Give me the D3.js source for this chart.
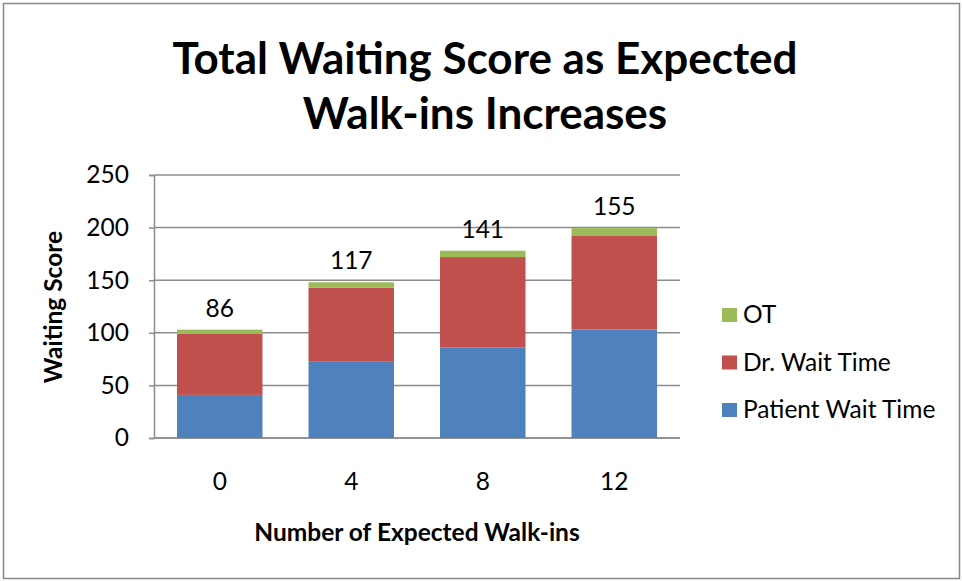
<!DOCTYPE html>
<html lang="en">
<head>
    <meta charset="UTF-8">
    <title>Total Waiting Score as Expected Walk-ins Increases</title>
    <script src="https://d3js.org/d3.v7.min.js"></script>
    <style>
        body {
            margin: 0;
            background: #fff;
            font-family: Lato, "Open Sans", sans-serif;
        }
        svg text {
            fill: #000;
        }
    </style>
</head>
<body>
    <div id="chart"></div>

    <script>
        const width = 962;
        const height = 581;

        // data
        const categories = ["0", "4", "8", "12"];
        const patientWait = [41, 73, 86, 103];
        const drWait = [58, 70, 86, 89];
        const overtime = [4, 5, 6, 7.5];
        const totalLabels = [86, 117, 141, 155];
        const yTicks = [0, 50, 100, 150, 200, 250];

        const seriesNames = ["Patient Wait Time", "Dr. Wait Time", "OT"];
        const colors = ["#4f81bd", "#c0504d", "#9bbb59"];

        const rows = categories.map((c, i) => ({
            cat: c,
            "Patient Wait Time": patientWait[i],
            "Dr. Wait Time": drWait[i],
            "OT": overtime[i]
        }));

        const fs = 24.5;

        const svg = d3.select("#chart")
            .append("svg")
            .attr("width", width)
            .attr("height", height);

        // outer chart border
        svg.append("rect")
            .attr("x", 3.5).attr("y", 3.5)
            .attr("width", 956).attr("height", 575)
            .attr("fill", "none")
            .attr("stroke", "#898989")
            .attr("stroke-width", 1.5);

        const plot = { left: 154, right: 680, top: 175, bottom: 438 };

        const x = d3.scaleBand()
            .domain(categories)
            .range([plot.left, plot.right])
            .paddingInner(0.35)
            .paddingOuter(0.175);

        const y = d3.scaleLinear()
            .domain([0, 250])
            .range([plot.bottom, plot.top]);

        // gridlines
        svg.append("g")
            .selectAll("line")
            .data(yTicks)
            .join("line")
            .attr("x1", plot.left).attr("x2", plot.right)
            .attr("y1", d => y(d)).attr("y2", d => y(d))
            .attr("stroke", "#8c8c8c")
            .attr("stroke-width", 1.5);

        // y axis
        const yAxis = svg.append("g")
            .attr("transform", `translate(${plot.left},0)`)
            .call(d3.axisLeft(y).tickValues(yTicks).tickSize(5).tickPadding(20));
        yAxis.select(".domain").attr("stroke", "#8c8c8c").attr("stroke-width", 1.5);
        yAxis.selectAll(".tick line").attr("stroke", "#8c8c8c").attr("stroke-width", 1.5);
        yAxis.selectAll(".tick text")
            .attr("font-size", fs)
            .attr("font-family", "Lato, sans-serif")
            .attr("fill", "#000");

        // x axis line
        svg.append("line")
            .attr("x1", plot.left).attr("x2", plot.right)
            .attr("y1", plot.bottom).attr("y2", plot.bottom)
            .attr("stroke", "#8c8c8c")
            .attr("stroke-width", 1.5);

        const xAxis = svg.append("g")
            .attr("transform", `translate(0,${plot.bottom})`)
            .call(d3.axisBottom(x).tickSize(0).tickPadding(35));
        xAxis.select(".domain").remove();
        xAxis.selectAll(".tick text")
            .attr("font-size", fs)
            .attr("font-family", "Lato, sans-serif")
            .attr("fill", "#000");

        // stacked bars
        const stacked = d3.stack().keys(seriesNames)(rows);

        svg.append("g")
            .selectAll("g")
            .data(stacked)
            .join("g")
            .attr("fill", (d, i) => colors[i])
            .selectAll("rect")
            .data(d => d)
            .join("rect")
            .attr("x", d => x(d.data.cat))
            .attr("width", x.bandwidth())
            .attr("y", d => y(d[1]))
            .attr("height", d => y(d[0]) - y(d[1]));

        // labels above bars
        svg.append("g")
            .selectAll("text")
            .data(rows)
            .join("text")
            .attr("x", d => x(d.cat) + x.bandwidth() / 2)
            .attr("y", d => y(d["Patient Wait Time"] + d["Dr. Wait Time"] + d["OT"]) - 13)
            .attr("text-anchor", "middle")
            .attr("font-size", fs)
            .text((d, i) => totalLabels[i]);

        // title
        const title = svg.append("text")
            .attr("text-anchor", "middle")
            .attr("font-size", 44)
            .attr("font-weight", "bold");
        title.append("tspan").attr("x", 485).attr("y", 74).text("Total Waiting Score as Expected");
        title.append("tspan").attr("x", 485).attr("y", 129).text("Walk-ins Increases");

        // axis titles
        svg.append("text")
            .attr("transform", "translate(62,307) rotate(-90)")
            .attr("text-anchor", "middle")
            .attr("font-size", fs)
            .attr("font-weight", "bold")
            .text("Waiting Score");

        svg.append("text")
            .attr("x", 417)
            .attr("y", 541)
            .attr("text-anchor", "middle")
            .attr("font-size", fs)
            .attr("font-weight", "bold")
            .text("Number of Expected Walk-ins");

        // legend (top to bottom: OT, Dr, Patient)
        const legendItems = seriesNames.map((n, i) => ({ name: n, color: colors[i] })).reverse();
        const legend = svg.append("g")
            .selectAll("g")
            .data(legendItems)
            .join("g")
            .attr("transform", (d, i) => `translate(722,${308 + i * 47.5})`);
        legend.append("rect")
            .attr("width", 15).attr("height", 14)
            .attr("fill", d => d.color);
        legend.append("text")
            .attr("x", 21)
            .attr("y", 15)
            .attr("font-size", fs)
            .text(d => d.name);
    </script>
</body>
</html>
